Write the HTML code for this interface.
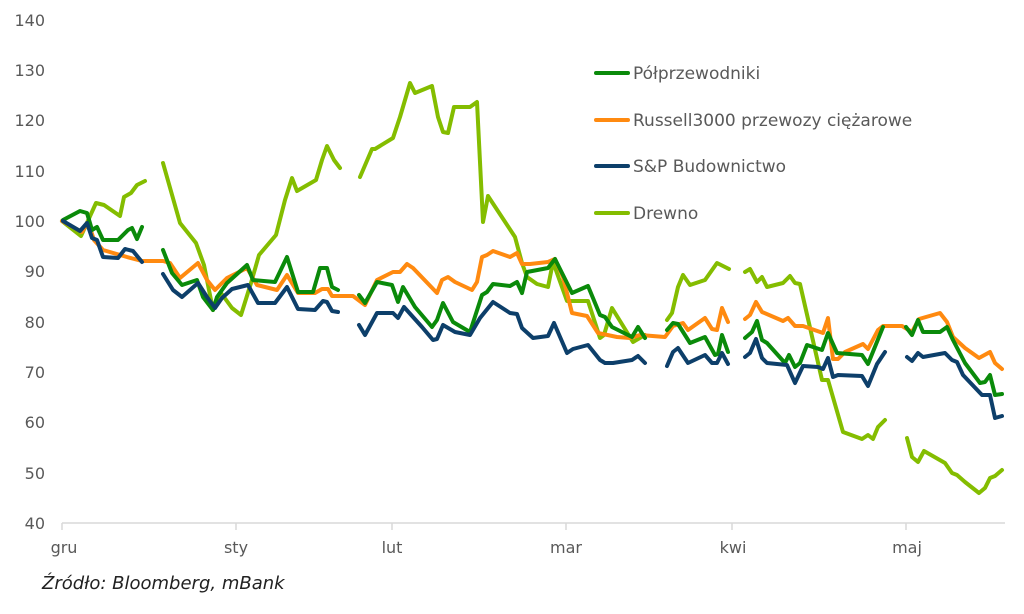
<!DOCTYPE html>
<html><head><meta charset="utf-8"><style>
body{margin:0;background:#fff;}
svg{display:block;font-family:"DejaVu Sans","Liberation Sans",sans-serif;}
</style></head><body>
<svg width="1024" height="614" viewBox="0 0 1024 614">
<g fill="#595959" font-size="16" text-anchor="end">
<text x="45" y="26">140</text><text x="45" y="76">130</text><text x="45" y="126">120</text><text x="45" y="177">110</text><text x="45" y="227">100</text><text x="45" y="277">90</text><text x="45" y="328">80</text><text x="45" y="378">70</text><text x="45" y="428">60</text><text x="45" y="479">50</text><text x="45" y="529">40</text>
</g>
<line x1="62" y1="523" x2="1005" y2="523" stroke="#d9d9d9" stroke-width="1.5"/>
<g stroke="#d9d9d9" stroke-width="1.5">
<line x1="62" y1="523" x2="62" y2="530"/><line x1="236" y1="523" x2="236" y2="530"/><line x1="392" y1="523" x2="392" y2="530"/><line x1="566" y1="523" x2="566" y2="530"/><line x1="732" y1="523" x2="732" y2="530"/><line x1="906" y1="523" x2="906" y2="530"/>
</g>
<g fill="#595959" font-size="16" text-anchor="middle">
<text x="64" y="553">gru</text><text x="236" y="553">sty</text><text x="392" y="553">lut</text><text x="566" y="553">mar</text><text x="733" y="553">kwi</text><text x="907" y="553">maj</text>
</g>
<g fill="none" stroke-width="4" stroke-linejoin="round" stroke-linecap="round">
<g stroke="#84bd00">
<polyline points="62,221 81,236 96,203 104,205 120,216 124,197 131,193 137,185 145,181"/>
<polyline points="163,163 180,223 196,243 204,265 213,310 221,293 232,308 241,315 251,283 259,255 276,235 285,200 292,178 297,191 316,180 322,160 327,146 334,160 340,168"/>
<polyline points="360,177 372,149 375,149 393,138 400,117 410,83 415,93 432,86 438,117 443,132 448,133 454,107 470,107 477,102 483,222 488,196 515,237 522,263 527,277 537,284 548,287 553,262 567,301 588,301 600,338 604,335 612,308 633,342 645,335"/>
<polyline points="667,320 672,313 678,287 683,275 690,285 705,280 717,263 729,269"/>
<polyline points="745,272 750,269 757,282 762,277 767,287 783,283 790,276 795,283 800,284 822,380 828,380 843,432 862,439 868,435 873,439 878,427 885,420"/>
<polyline points="907,438 912,457 918,462 924,451 945,463 952,473 957,475 965,482 979,493 985,488 990,478 995,476 1002,470"/>
</g>
<g stroke="#ff8a10">
<polyline points="62,221 82,232 88,222 94,240 103,250 127,257 142,261 163,261 170,263 180,278 198,263 207,280 215,290 227,278 247,268 257,285 277,290 287,275 298,293 315,293 322,289 328,289 332,296 353,296 365,305 377,280 393,272 400,272 407,264 413,268 437,293 442,280 448,277 455,282 472,290 477,282 482,257 487,255 493,251 510,257 517,253 522,264 530,264 548,262 555,259 563,277 572,313 587,316 598,333 617,337 630,338 640,335 665,337 673,326 683,323 688,330 705,318 712,329 717,330 722,308 728,322"/>
<polyline points="745,319 750,315 756,302 762,312 783,321 788,318 795,326 803,326 823,333 828,318 833,359 838,359 845,352 863,344 868,349 878,330 883,326 902,326 912,332 919,319 940,313 947,322 953,337 965,348 979,358 990,352 995,363 1002,369"/>
</g>
<g stroke="#0a8a0a">
<polyline points="63,220 80,211 87,213 92,230 97,227 103,240 118,240 128,230 132,228 137,239 142,227"/>
<polyline points="163,250 172,273 182,285 197,280 203,297 213,310 217,297 227,283 247,265 253,280 275,282 287,257 298,292 313,292 320,268 327,268 332,287 338,290"/>
<polyline points="359,295 365,303 377,282 392,285 398,302 403,287 415,307 432,327 437,320 443,303 453,322 470,332 482,295 487,292 493,284 510,286 517,282 522,293 527,272 548,268 555,259 572,293 588,286 600,315 605,317 612,327 632,337 638,327 645,338"/>
<polyline points="667,330 673,323 678,324 690,343 705,337 715,355 718,354 722,335 728,352"/>
<polyline points="745,338 752,332 757,321 762,340 767,343 785,363 789,355 795,367 800,363 807,345 822,350 828,333 837,353 862,355 868,364 883,327"/>
<polyline points="906,327 912,335 918,320 923,332 940,332 947,327 953,340 965,363 980,383 985,382 990,375 995,395 1002,394"/>
</g>
<g stroke="#0d3f6a">
<polyline points="63,221 80,231 87,223 92,238 97,240 103,257 118,258 125,249 133,251 142,262"/>
<polyline points="163,274 173,290 182,297 198,283 207,297 215,308 222,298 232,289 240,287 248,285 258,303 275,303 287,287 298,309 315,310 323,301 327,302 332,311 338,312"/>
<polyline points="359,325 365,335 377,313 393,313 398,318 404,307 422,327 433,340 437,339 443,325 455,332 470,335 480,318 493,302 510,313 517,314 522,328 533,338 548,336 554,323 567,353 573,349 588,345 600,360 605,363 613,363 632,360 638,356 645,363"/>
<polyline points="667,366 673,352 678,348 688,363 705,355 712,363 717,363 722,353 728,364"/>
<polyline points="745,357 750,353 756,339 762,358 767,363 787,365 795,383 803,366 818,367 823,369 828,358 833,377 838,375 862,376 868,386 877,364 885,352"/>
<polyline points="907,357 912,361 918,353 923,357 945,353 952,360 957,362 963,375 982,395 990,395 995,418 1002,416"/>
</g>
<g stroke-width="4">
<line x1="596" y1="73" x2="628" y2="73" stroke="#0a8a0a"/>
<line x1="596" y1="120" x2="628" y2="120" stroke="#ff8a10"/>
<line x1="596" y1="166" x2="628" y2="166" stroke="#0d3f6a"/>
<line x1="596" y1="213" x2="628" y2="213" stroke="#84bd00"/>
</g>
</g>
<g fill="#595959" font-size="17">
<text x="633" y="79">Półprzewodniki</text>
<text x="633" y="126">Russell3000 przewozy ciężarowe</text>
<text x="633" y="172">S&amp;P Budownictwo</text>
<text x="633" y="219">Drewno</text>
</g>
<text x="42" y="589" font-size="18" font-style="italic" fill="#222">Źródło: Bloomberg, mBank</text>
</svg>
</body></html>
